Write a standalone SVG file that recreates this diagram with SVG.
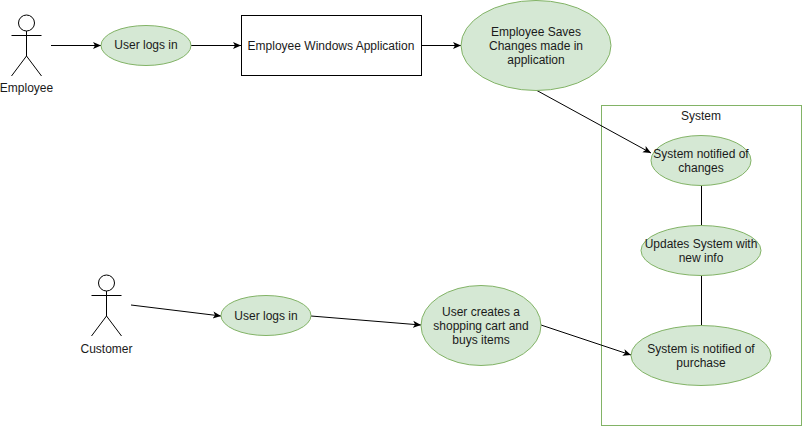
<svg xmlns="http://www.w3.org/2000/svg" width="802" height="426" viewBox="0 0 802 426">
<style>
text{font-family:"Liberation Sans",Arial,sans-serif;font-size:12px;fill:#1a1a1a;text-anchor:middle}
.e{fill:#d5e8d4;stroke:#82b366;stroke-width:1}
.r{fill:#fff;stroke:#000;stroke-width:1}
.s{fill:#fff;stroke:#82b366;stroke-width:1}
.a{fill:none;stroke:#000;stroke-width:1}
</style>
<defs><marker id="m" markerUnits="userSpaceOnUse" markerWidth="10" markerHeight="10" refX="8" refY="4" orient="auto"><path d="M0 .5L8 4L0 7.500L2 4Z" fill="#000"/></marker></defs>
<rect width="802" height="426" fill="#fff"/>
<g id="system"><rect class="s" x="601.500" y="105.500" width="200" height="320"/><text x="701" y="120">System</text></g>
<g id="connectors">
<path class="a" d="M51 45.500H101" marker-end="url(#m)"/>
<path class="a" d="M191 45.500H241" marker-end="url(#m)"/>
<path class="a" d="M421 45.500H461" marker-end="url(#m)"/>
<path class="a" d="M536 90L651 153" marker-end="url(#m)"/>
<path class="a" d="M131 305L221 316" marker-end="url(#m)"/>
<path class="a" d="M311 316L421 325" marker-end="url(#m)"/>
<path class="a" d="M541 325L631 355" marker-end="url(#m)"/>
<path class="a" d="M701.500 185V225M701.500 275V325"/>
</g>
<g id="employee"><g class="a"><circle cx="26.500" cy="23" r="8"/><path d="M26.500 31V56M11.500 35.500H41.500M26.500 56L11.500 76M26.500 56L41.500 76"/></g><text x="26.500" y="92">Employee</text></g>
<g id="customer"><g class="a"><circle cx="106.500" cy="283" r="8"/><path d="M106.500 291V316M91.500 295.500H121.500M106.500 316L91.500 336M106.500 316L121.500 336"/></g><text x="106.500" y="353">Customer</text></g>
<g id="login1"><ellipse class="e" cx="146" cy="45.500" rx="45" ry="20"/><text x="146" y="49">User logs in</text></g>
<g id="app"><rect class="r" x="241.500" y="15.500" width="180" height="60"/><text x="331" y="50">Employee Windows Application</text></g>
<g id="saves"><ellipse class="e" cx="536" cy="45.500" rx="75" ry="45"/><text x="536" y="36">Employee Saves</text><text x="536" y="50">Changes made in</text><text x="536" y="64">application</text></g>
<g id="notified"><ellipse class="e" cx="701" cy="160.500" rx="50" ry="25"/><text x="701" y="158">System notified of</text><text x="701" y="172">changes</text></g>
<g id="updates"><ellipse class="e" cx="701" cy="250.500" rx="60" ry="25"/><text x="701" y="248">Updates System with</text><text x="701" y="262">new info</text></g>
<g id="purchase"><ellipse class="e" cx="701" cy="355.500" rx="70" ry="30"/><text x="701" y="353">System is notified of</text><text x="701" y="367">purchase</text></g>
<g id="login2"><ellipse class="e" cx="266" cy="315.500" rx="45" ry="20"/><text x="266" y="320">User logs in</text></g>
<g id="cart"><ellipse class="e" cx="481" cy="325.500" rx="60" ry="40"/><text x="481" y="316">User creates a</text><text x="481" y="330">shopping cart and</text><text x="481" y="344">buys items</text></g>
</svg>
